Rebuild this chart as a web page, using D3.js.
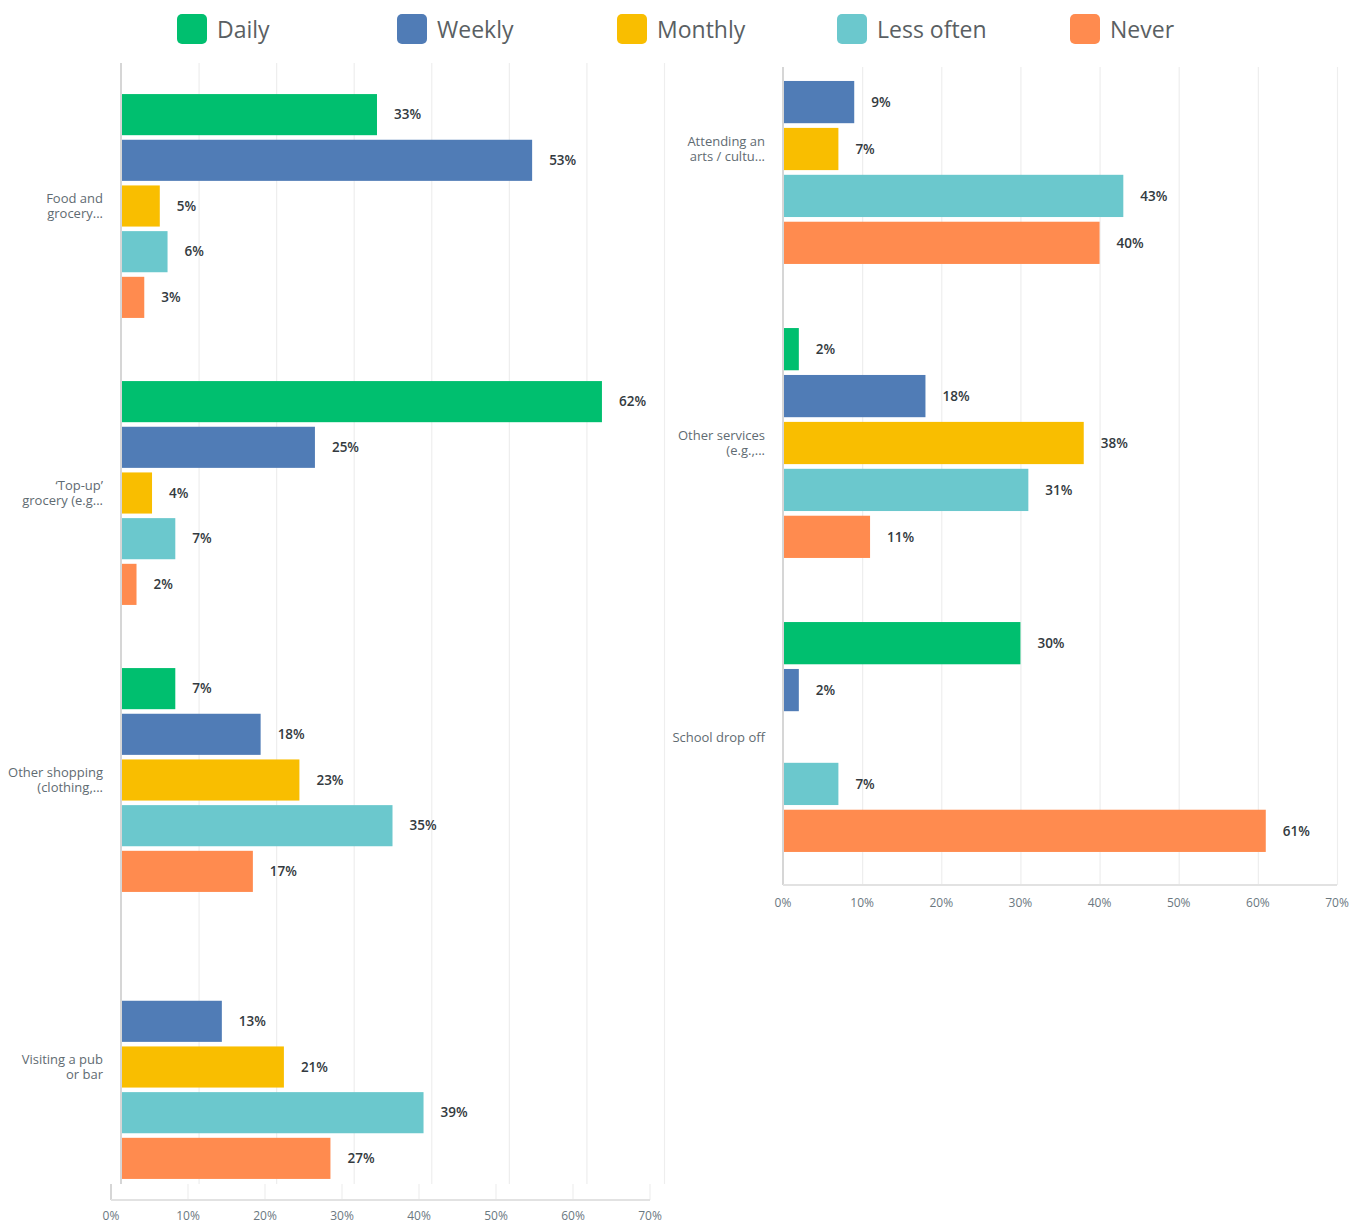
<!DOCTYPE html>
<html>
<head>
<meta charset="utf-8">
<script src="https://cdn.jsdelivr.net/npm/d3@7"></script>
<style>
  html, body { margin: 0; padding: 0; background: #fff; }
  svg { display: block; }
  text { font-family: "Open Sans", "Noto Sans", sans-serif; }
</style>
</head>
<body>
<script>
// Survey answers: how often each activity is done (percent of respondents)
const categories = [
  ["Food and", "grocery..."],
  ["\u2018Top-up\u2019", "grocery (e.g..."],
  ["Other shopping", "(clothing,..."],
  ["Visiting a pub", "or bar"],
  ["Attending an", "arts / cultu..."],
  ["Other services", "(e.g.,..."],
  ["School drop off"]
];
const seriesNames = ["Daily", "Weekly", "Monthly", "Less often", "Never"];
const seriesColors = ["#00BF6F", "#507CB6", "#F9BE00", "#6BC8CD", "#FF8B4F"];

const daily     = [33, 62,  7,  0,  0,  2, 30];
const weekly    = [53, 25, 18, 13,  9, 18,  2];
const monthly   = [ 5,  4, 23, 21,  7, 38,  0];
const lessOften = [ 6,  7, 35, 39, 43, 31,  7];
const never     = [ 3,  2, 17, 27, 40, 11, 61];

const xTicks = [0, 10, 20, 30, 40, 50, 60, 70];

const seriesValues = [daily, weekly, monthly, lessOften, never];

const W = 1350, H = 1227;
const svg = d3.select("body").append("svg").attr("width", W).attr("height", H);

// ---- legend ----
const legendX = [177, 397, 617, 837, 1070];
const legend = svg.append("g");
seriesNames.forEach((name, i) => {
  const g = legend.append("g").attr("transform", `translate(${legendX[i]},14)`);
  g.append("rect").attr("width", 30).attr("height", 30).attr("rx", 5).attr("fill", seriesColors[i]);
  g.append("text").attr("x", 40).attr("y", 24).attr("font-size", 23).attr("fill", "#5a5f63")
    .text(name);
});

// ---- one bar panel ----
function panel(opts) {
  const idx = opts.indices;
  const x = d3.scaleLinear().domain([0, 70]).range([opts.x0, opts.x1]);
  const y0 = d3.scaleBand().domain(idx).range(opts.bandRange)
    .paddingInner(opts.padInner).paddingOuter(opts.padOuter);
  const y1 = d3.scaleBand().domain(d3.range(seriesNames.length))
    .range([0, y0.bandwidth()]).paddingInner(0.1);

  const g = svg.append("g");

  // vertical grid lines
  g.append("g").selectAll("line").data(xTicks.slice(1)).join("line")
    .attr("x1", d => x(d) + 0.5).attr("x2", d => x(d) + 0.5)
    .attr("y1", opts.gridTop).attr("y2", opts.gridBottom)
    .attr("stroke", "#eeeeee").attr("stroke-width", 1.2);

  // bars
  const groups = g.append("g").selectAll("g").data(idx).join("g")
    .attr("transform", d => `translate(0,${y0(d)})`);
  groups.each(function (ci) {
    const rows = seriesValues.map((vals, si) => ({ si, v: vals[ci] })).filter(r => r.v > 0);
    const sel = d3.select(this);
    sel.selectAll("rect").data(rows).join("rect")
      .attr("x", x(0)).attr("y", r => y1(r.si))
      .attr("width", r => x(r.v) - x(0)).attr("height", y1.bandwidth())
      .attr("fill", r => seriesColors[r.si]);
    sel.selectAll("text.val").data(rows).join("text").attr("class", "val")
      .attr("x", r => x(r.v) + 17).attr("y", r => y1(r.si) + y1.bandwidth() / 2)
      .attr("dy", "0.35em").attr("font-size", 13.5).attr("font-weight", 600)
      .attr("fill", "#333a40").text(r => r.v + "%");
  });

  // category labels
  g.append("g").selectAll("text").data(idx).join("text")
    .attr("text-anchor", "end").attr("x", x(0) - 18)
    .attr("y", d => y0(d) + y0.bandwidth() / 2)
    .attr("font-size", 13).attr("fill", "#5f6b72")
    .each(function (d) {
      const lines = categories[d];
      const t = d3.select(this);
      lines.forEach((ln, k) => {
        t.append("tspan").attr("x", x(0) - 18)
          .attr("dy", k === 0 ? (0.35 - (lines.length - 1) * 0.6) + "em" : "1.2em")
          .text(ln);
      });
    });

  // zero axis line
  g.append("line").attr("x1", x(0)).attr("x2", x(0))
    .attr("y1", opts.gridTop).attr("y2", opts.gridBottom)
    .attr("stroke", "#d6d6d6").attr("stroke-width", 2);

  // bottom axis strip
  const xb = x.copy().range([opts.x0 + opts.axisShift, opts.x1 + opts.axisShift + opts.axisStretch]);
  const ax = g.append("g");
  ax.selectAll("line.tk").data(xTicks).join("line").attr("class", "tk")
    .attr("x1", d => xb(d)).attr("x2", d => xb(d))
    .attr("y1", opts.stripTop).attr("y2", opts.axisY)
    .attr("stroke", d => d === 0 ? "#d6d6d6" : "#eeeeee").attr("stroke-width", d => d === 0 ? 2 : 1.2);
  ax.append("line").attr("x1", xb(0)).attr("x2", xb(70))
    .attr("y1", opts.axisY).attr("y2", opts.axisY)
    .attr("stroke", "#e2e2e2").attr("stroke-width", 2);
  ax.selectAll("text").data(xTicks).join("text")
    .attr("x", d => xb(d)).attr("y", opts.labelY).attr("dy", "0.35em")
    .attr("text-anchor", "middle").attr("font-size", 12).attr("fill", "#6b787f")
    .text(d => d + "%");
}

panel({
  indices: [0, 1, 2, 3],
  x0: 121, x1: 664,
  bandRange: [62.5, 1210.5], padInner: 0.22, padOuter: 0.11,
  gridTop: 63, gridBottom: 1184,
  stripTop: 1184, axisY: 1200, axisShift: -10, axisStretch: -4, labelY: 1216
});

panel({
  indices: [4, 5, 6],
  x0: 783, x1: 1337,
  bandRange: [2, 884], padInner: 0.218, padOuter: 0.109,
  gridTop: 67, gridBottom: 885,
  stripTop: 885, axisY: 885, axisShift: 0, axisStretch: 0, labelY: 903
});
</script>
</body>
</html>
